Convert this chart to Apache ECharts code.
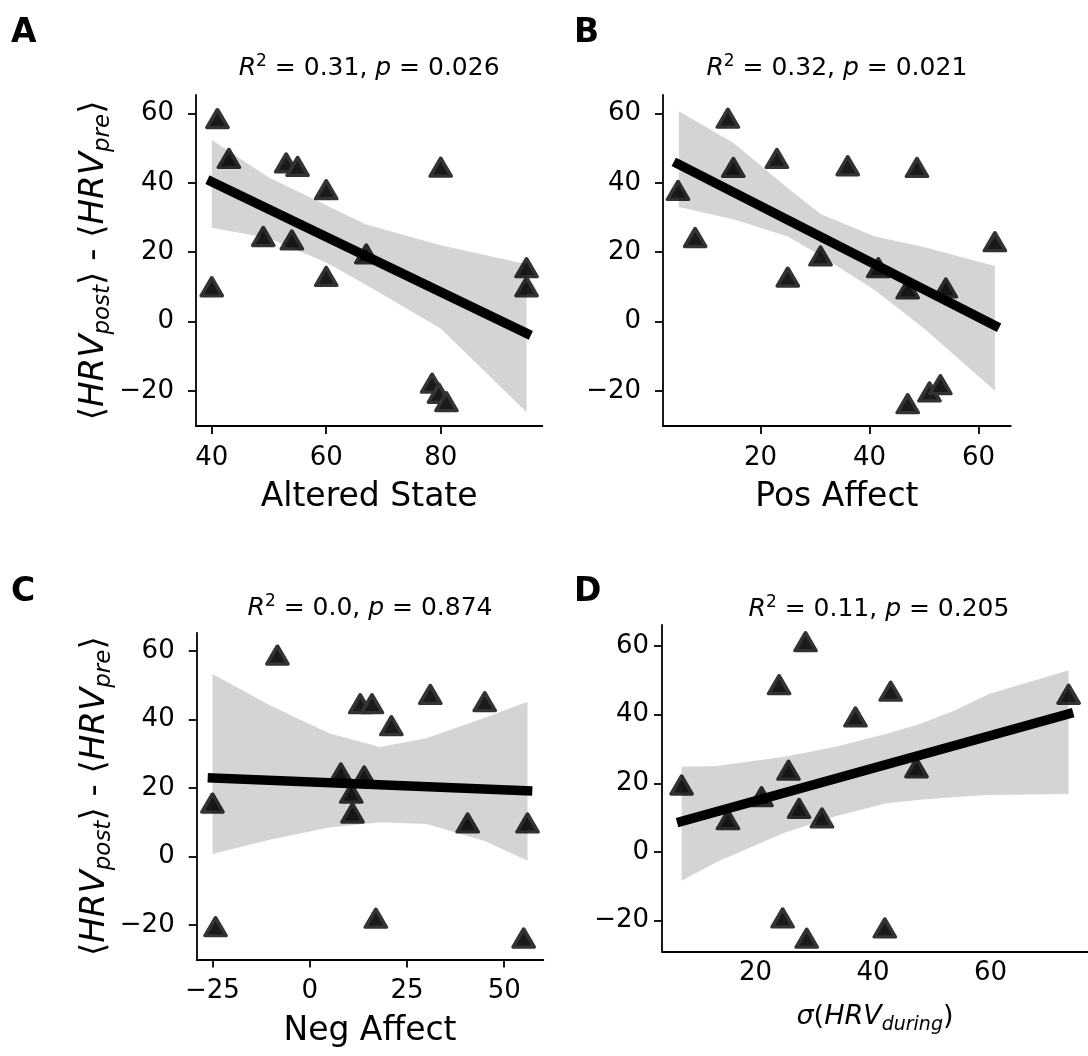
<!DOCTYPE html>
<html>
<head>
<meta charset="utf-8">
<script src="https://cdn.jsdelivr.net/npm/echarts@6/dist/echarts.min.js"></script>
<style>
  html, body { margin: 0; padding: 0; background: #ffffff; }
  #chart { width: 1088px; height: 1056px; }
</style>
</head>
<body>
<div id="chart"></div>
<script>
// Change in mean HRV (post - pre) against each predictor, one value per participant
const alteredState = [41, 43, 53, 55, 60, 49, 54, 60, 40, 67, 80, 95, 95, 78.5, 79.7, 81];
const hrvDiffA     = [58.5, 47, 45.7, 44.7, 38, 24.5, 23.5, 13, 10, 19.5, 44.5, 15.5, 10, -17.8, -20.7, -23.1];

const posAffect    = [14, 4.85, 8, 15, 23, 36, 48.7, 63, 31, 25, 41.6, 47, 54, 47, 51, 53];
const hrvDiffB     = [58.6, 37.8, 24.2, 44.4, 47, 44.9, 44.4, 23, 18.9, 12.8, 15.5, 9.4, 9.7, -23.7, -20.3, -18.2];

const negAffect    = [-8.3, 13, 16, 31, 45, 21, 8, 14, 10.7, 11, -25, 40.6, 56, -24.2, 17, 55];
const hrvDiffC     = [58.8, 44.6, 44.6, 47.3, 45.2, 38.2, 24.4, 23.5, 18.5, 12.7, 15.6, 9.8, 9.8, -20.5, -18, -23.8];

const sdHrvDuring  = [28.5, 24, 43, 37, 73.3, 25.6, 47.4, 7.4, 21, 27.4, 15.3, 31.3, 24.6, 28.7, 42];
const hrvDiffD     = [61.2, 48.7, 46.8, 39.3, 45.9, 23.8, 24.5, 19.5, 16.1, 12.7, 9.4, 9.9, -19.2, -25.1, -22.1];

// Fitted regression line: predicted value at the smallest and largest x
const fitLineA = [40.3, -3.4];
const fitLineB = [45.4, -1.2];
const fitLineC = [22.9, 19.2];
const fitLineD = [8.9, 40.2];

// Bootstrapped 95% confidence band of the fit, sampled along x
const bandXA     = [40, 50, 60, 67, 80, 95];
const bandUpperA = [52.3, 41.5, 33.5, 28, 22, 16.5];
const bandLowerA = [27, 24, 17, 10.5, -2, -26.2];

const bandXB     = [5, 15, 25, 31, 41, 50, 63];
const bandUpperB = [60.6, 51.5, 38.5, 31, 24.5, 21.5, 16];
const bandLowerB = [33, 29.5, 24.5, 19, 9, -2, -20];

const bandXC     = [-25, -10, 5, 18, 30, 45, 56];
const bandUpperC = [53.3, 44, 36, 32, 34.5, 40.5, 45.2];
const bandLowerC = [0.7, 5, 8.5, 10, 9.5, 4.5, -1.2];

const bandXD     = [7.4, 13.3, 24.9, 33.6, 42.3, 48.1, 53.9, 59.7, 73.3];
const bandUpperD = [24.8, 25, 27.7, 30.6, 34.4, 37.3, 41.2, 46, 52.9];
const bandLowerD = [-8.4, -3, 5.6, 10.4, 14.2, 15.2, 16, 16.6, 16.9];

// Tick labels
const yTickValues  = [-20, 0, 20, 40, 60];
const xTicksA      = [40, 60, 80];
const xTicksB      = [20, 40, 60];
const xTicksC      = [-25, 0, 25, 50];
const xTicksD      = [20, 40, 60];

// Panel letters and fit statistics shown above each panel
const panelLetters = ['A', 'B', 'C', 'D'];
const fitTitles = [
  '{i|R}{sup|2} = 0.31, {i|p} = 0.026',
  '{i|R}{sup|2} = 0.32, {i|p} = 0.021',
  '{i|R}{sup|2} = 0.0, {i|p} = 0.874',
  '{i|R}{sup|2} = 0.11, {i|p} = 0.205'
];
const xNames = ['Altered State', 'Pos Affect', 'Neg Affect', '{g|σ}({i|HRV}{sub|during})'];
const yName = '⟨{i|HRV}{sub|post}⟩ - ⟨{i|HRV}{sub|pre}⟩';

const FONT = 'DejaVu Sans';

const panels = [
  { xs: alteredState, ys: hrvDiffA, line: fitLineA, bx: bandXA, bu: bandUpperA, bl: bandLowerA,
    xTicks: xTicksA, xMin: 37.25, xMax: 97.75, yMin: -30.1, yMax: 65.3,
    grid: { left: 196, top: 95, width: 346.3, height: 330.9 }, showYName: true, xNameSize: 33, xNameGap: 55,
    xTickShow: true, xLabelMargin: 19, yLabelMargin: 22, titleTop: 53.5, letterTop: 17, letterLeft: 11 },
  { xs: posAffect, ys: hrvDiffB, line: fitLineB, bx: bandXB, bu: bandUpperB, bl: bandLowerB,
    xTicks: xTicksB, xMin: 2.1, xMax: 65.9, yMin: -30.1, yMax: 65.3,
    grid: { left: 663, top: 95, width: 347.7, height: 330.9 }, showYName: false, xNameSize: 33, xNameGap: 55,
    xTickShow: true, xLabelMargin: 19, yLabelMargin: 22, titleTop: 53.5, letterTop: 17, letterLeft: 574 },
  { xs: negAffect, ys: hrvDiffC, line: fitLineC, bx: bandXC, bu: bandUpperC, bl: bandLowerC,
    xTicks: xTicksC, xMin: -29.05, xMax: 60.05, yMin: -30.06, yMax: 65.3,
    grid: { left: 196.7, top: 632.8, width: 346.6, height: 326.7 }, showYName: true, xNameSize: 33, xNameGap: 55,
    xTickShow: true, xLabelMargin: 19, yLabelMargin: 22, titleTop: 593.5, letterTop: 576, letterLeft: 11 },
  { xs: sdHrvDuring, ys: hrvDiffD, line: fitLineD, bx: bandXD, bu: bandUpperD, bl: bandLowerD,
    xTicks: xTicksD, xMin: 4.06, xMax: 76.6, yMin: -28.9, yMax: 66.1,
    grid: { left: 662, top: 624.9, width: 434, height: 326.4 }, showYName: false, xNameSize: 27, xNameGap: 49,
    xTickShow: false, xLabelMargin: 9, yLabelMargin: 13, titleTop: 594.5, letterTop: 576, letterLeft: 574 }
];

const fmtTick = v => String(v).replace('-', '\u2212');

const option = {
  animation: false,
  backgroundColor: '#ffffff',
  textStyle: { fontFamily: FONT },
  title: [],
  grid: [],
  xAxis: [],
  yAxis: [],
  series: []
};

panels.forEach((p, i) => {
  const cx = p.grid.left + p.grid.width / 2;
  const x0 = Math.min(...p.xs), x1 = Math.max(...p.xs);

  option.grid.push(Object.assign({ containLabel: false }, p.grid));

  option.title.push({
    text: fitTitles[i],
    left: cx, top: p.titleTop, textAlign: 'center', padding: 0,
    textStyle: {
      fontFamily: FONT, fontSize: 25, fontWeight: 'normal', color: '#000', lineHeight: 30,
      rich: {
        i: { fontFamily: FONT, fontSize: 25, fontStyle: 'italic', lineHeight: 30, color: '#000' },
        sup: { fontFamily: FONT, fontSize: 17, lineHeight: 22, verticalAlign: 'top', color: '#000' }
      }
    }
  });
  option.title.push({
    text: panelLetters[i],
    left: p.letterLeft, top: p.letterTop, padding: 0,
    textStyle: { fontFamily: FONT, fontSize: 33, fontWeight: 'bold', color: '#000', lineHeight: 33 }
  });

  option.xAxis.push({
    type: 'value', gridIndex: i, min: p.xMin, max: p.xMax,
    name: xNames[i], nameLocation: 'middle', nameGap: p.xNameGap,
    nameTextStyle: {
      fontFamily: FONT, fontSize: p.xNameSize, color: '#000', lineHeight: 34,
      rich: {
        g: { fontFamily: FONT, fontSize: 27, fontStyle: 'italic', lineHeight: 34, color: '#000' },
        i: { fontFamily: FONT, fontSize: 27, fontStyle: 'italic', lineHeight: 34, color: '#000' },
        sub: { fontFamily: FONT, fontSize: 19, fontStyle: 'italic', lineHeight: 19, verticalAlign: 'bottom', color: '#000' }
      }
    },
    axisLine: { show: true, onZero: false, lineStyle: { color: '#000', width: 1.8 } },
    axisTick: { show: p.xTickShow, length: 8, customValues: p.xTicks, lineStyle: { color: '#000', width: 1.8 } },
    axisLabel: { customValues: p.xTicks, fontFamily: FONT, fontSize: 26, color: '#000', margin: p.xLabelMargin, formatter: fmtTick },
    splitLine: { show: false }
  });

  option.yAxis.push({
    type: 'value', gridIndex: i, min: p.yMin, max: p.yMax,
    name: p.showYName ? yName : '', nameLocation: 'middle', nameGap: 81, nameRotate: 90,
    nameTextStyle: {
      fontFamily: FONT, fontSize: 34, color: '#000', lineHeight: 42,
      rich: {
        i: { fontFamily: FONT, fontSize: 34, fontStyle: 'italic', lineHeight: 42, color: '#000' },
        sub: { fontFamily: FONT, fontSize: 23, fontStyle: 'italic', lineHeight: 24, verticalAlign: 'bottom', color: '#000' }
      }
    },
    axisLine: { show: true, onZero: false, lineStyle: { color: '#000', width: 1.8 } },
    axisTick: { show: true, length: 8, customValues: yTickValues, lineStyle: { color: '#000', width: 1.8 } },
    axisLabel: { customValues: yTickValues, fontFamily: FONT, fontSize: 26, color: '#000', margin: p.yLabelMargin, formatter: fmtTick },
    splitLine: { show: false }
  });

  // participants
  option.series.push({
    type: 'scatter', xAxisIndex: i, yAxisIndex: i, z: 2,
    data: p.xs.map((x, k) => [x, p.ys[k]]),
    symbol: 'triangle', symbolSize: [21, 18],
    itemStyle: { color: '#1a1a1a', borderColor: '#333333', borderWidth: 3.5, borderJoin: 'round', opacity: 1 },
    emphasis: { disabled: true }
  });

  // 95% confidence band of the fit
  const upperPts = p.bx.map((x, k) => [x, p.bu[k]]);
  const lowerPts = p.bx.map((x, k) => [x, p.bl[k]]);
  option.series.push({
    type: 'custom', xAxisIndex: i, yAxisIndex: i, z: 3, silent: true,
    data: [upperPts[0]],
    renderItem: (params, api) => {
      const pts = upperPts.map(q => api.coord(q))
        .concat(lowerPts.slice().reverse().map(q => api.coord(q)));
      return { type: 'polygon', shape: { points: pts }, style: { fill: 'rgba(0,0,0,0.17)' } };
    }
  });

  // fitted regression line
  option.series.push({
    type: 'line', xAxisIndex: i, yAxisIndex: i, z: 4, silent: true,
    data: [[x0, p.line[0]], [x1, p.line[1]]], symbol: 'none',
    lineStyle: { color: '#000', width: 9.5, cap: 'square' }
  });
});

const chart = echarts.init(document.getElementById('chart'), null, { renderer: 'canvas' });
chart.setOption(option);
</script>
</body>
</html>
